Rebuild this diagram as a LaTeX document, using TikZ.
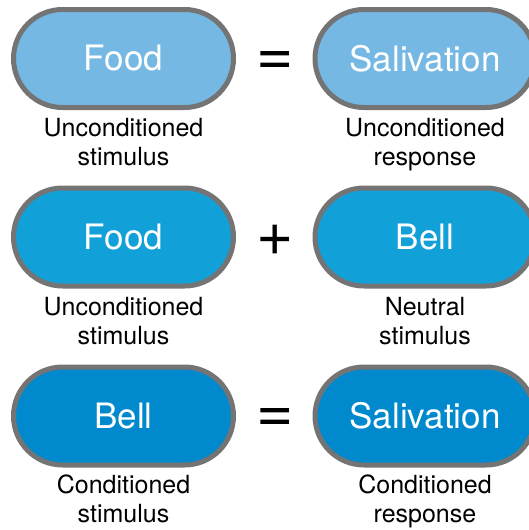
\documentclass[tikz,border=0pt]{standalone}
\usepackage{fontspec}
\setmainfont{TeX Gyre Heros}
\definecolor{rowA}{HTML}{75B8E3}
\definecolor{rowB}{HTML}{12A0D9}
\definecolor{rowC}{HTML}{008ACD}
\definecolor{pillgray}{HTML}{747474}
\begin{document}
\begin{tikzpicture}[x=1pt,y=-1pt,
  pill/.style={draw=pillgray, line width=5pt, rounded corners=49pt,
    minimum width=220pt, minimum height=98pt, inner sep=0pt,
    text=white, font=\fontsize{35}{40}\selectfont},
  caplabel/.style={align=center, font=\fontsize{25}{29}\selectfont, inner sep=0pt, text=black},
  sym/.style={font=\fontsize{64}{64}\selectfont, inner sep=0pt}]
\useasboundingbox (0,0) rectangle (528,530);
% row 1
\node[pill, fill=rowA] (food1) at (123.5,58.5) {Food};
\node[pill, fill=rowA] (sal1) at (425,58.5) {Salivation};
\node[sym] (eq1) at (275,63) {=};
\node[caplabel, anchor=north] (l1) at (123.5,118.5) {Unconditioned\\stimulus};
\node[caplabel, anchor=north] (r1) at (425,118.5) {Unconditioned\\response};
% row 2
\node[pill, fill=rowB] (food2) at (123.5,237) {Food};
\node[pill, fill=rowB] (bell2) at (425,237) {Bell};
\node[sym] (plus2) at (275,240.5) {+};
\node[caplabel, anchor=north] (l2) at (123.5,297) {Unconditioned\\stimulus};
\node[caplabel, anchor=north] (r2) at (425,297) {Neutral\\stimulus};
% row 3
\node[pill, fill=rowC] (bell3) at (123.5,416) {Bell};
\node[pill, fill=rowC] (sal3) at (425,416) {Salivation};
\node[sym] (eq3) at (275,420.5) {=};
\node[caplabel, anchor=north] (l3) at (123.5,475) {Conditioned\\stimulus};
\node[caplabel, anchor=north] (r3) at (425,475) {Conditioned\\response};
\end{tikzpicture}
\end{document}
